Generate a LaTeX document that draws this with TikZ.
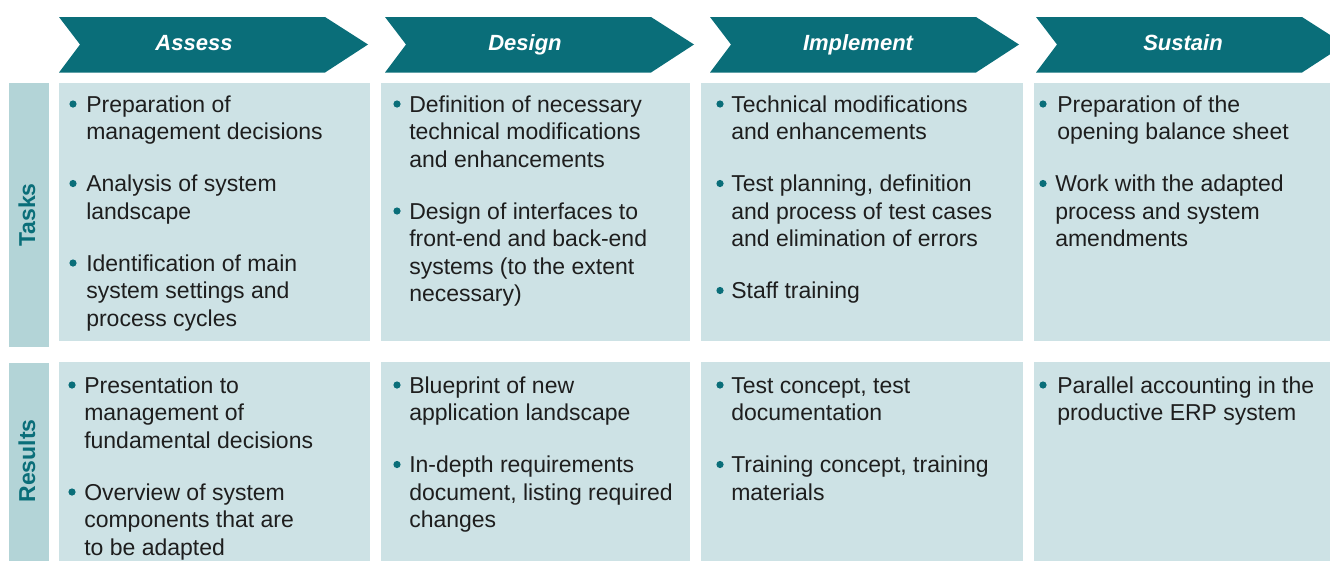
\documentclass[tikz,border=0pt]{standalone}
\usepackage{fontspec}
\setmainfont{Liberation Sans}
\definecolor{tealc}{HTML}{0A6E79}
\definecolor{lightc}{HTML}{CDE2E5}
\definecolor{sidec}{HTML}{B3D4D7}
\definecolor{bodyc}{HTML}{1E1E1E}
\newcommand\lsp{27.5}
\newcommand\bitem[5]{%
  \fill[tealc] (#2,#4-8) circle[radius=2.7pt];
  \foreach \ln [count=\i from 0] in {#5}{\node[txt] (#1-\i) at (#3,#4+\i*\lsp) {\ln};}%
}
\newcommand\chevron[1]{%
  \fill[tealc] (#1,17) -- (#1+266,17) -- (#1+309,44.5) -- (#1+266,72.5) -- (#1,72.5) -- (#1+21,44.5) -- cycle;
}
\begin{document}
\begin{tikzpicture}[x=0.75pt,y=-0.75pt,
  txt/.style={font=\fontsize{17.25}{20.6}\selectfont, text=bodyc, inner sep=0pt, anchor=base west},
  hdr/.style={font=\fontsize{16.5}{19}\selectfont\bfseries\itshape, text=white, inner sep=0pt, anchor=base},
  sidelbl/.style={font=\fontsize{17.25}{19}\selectfont\bfseries, text=tealc, inner sep=0pt, anchor=base, rotate=90}]
\useasboundingbox (0,0) rectangle (1330,561);
\clip (0,0) rectangle (1330,561);
% header chevrons
\chevron{59}
\chevron{385}
\chevron{710}
\chevron{1036}
\node[hdr] (h1) at (194,50) {Assess};
\node[hdr] (h2) at (525,50) {Design};
\node[hdr] (h3) at (858,50) {Implement};
\node[hdr] (h4) at (1183,50) {Sustain};
% side bars
\fill[sidec] (9,83) rectangle (49,347);
\fill[sidec] (9,363) rectangle (49,561);
\node[sidelbl] (lt) at (35,215) {Tasks};
\node[sidelbl] (lr) at (35,461) {Results};
% content boxes
\fill[lightc] (59,83) rectangle (370,341);
\fill[lightc] (381,83) rectangle (690,341);
\fill[lightc] (701,83) rectangle (1023,341);
\fill[lightc] (1034,83) rectangle (1330,341);
\fill[lightc] (59,362) rectangle (370,561);
\fill[lightc] (381,362) rectangle (690,561);
\fill[lightc] (701,362) rectangle (1023,561);
\fill[lightc] (1034,362) rectangle (1330,561);
% Tasks
\bitem{ta1}{73}{86}{112}{Preparation of,management decisions}
\bitem{ta2}{73}{86}{191.5}{Analysis of system,landscape}
\bitem{ta3}{73}{86}{271}{Identification of main,system settings and,process cycles}
\bitem{td1}{397}{409}{112}{Definition of necessary,technical modifications,and enhancements}
\bitem{td2}{397}{409}{219}{Design of interfaces to,front-end and back-end,systems (to the extent,necessary)}
\bitem{ti1}{720}{731}{112}{Technical modifications,and enhancements}
\bitem{ti2}{720}{731}{191.5}{{Test planning, definition},and process of test cases,and elimination of errors}
\bitem{ti3}{720}{731}{298.5}{Staff training}
\bitem{ts1}{1043}{1057}{112}{Preparation of the,opening balance sheet}
\bitem{ts2}{1043}{1055}{191.5}{Work with the adapted,process and system,amendments}
% Results
\bitem{ra1}{72}{84}{393}{Presentation to,management of,fundamental decisions}
\bitem{ra2}{72}{84}{500}{Overview of system,components that are,to be adapted}
\bitem{rd1}{397}{409}{393}{Blueprint of new,application landscape}
\bitem{rd2}{397}{409}{472.5}{In-depth requirements,{document, listing required},changes}
\bitem{ri1}{720}{731}{393}{{Test concept, test},documentation}
\bitem{ri2}{720}{731}{472.5}{{Training concept, training},materials}
\bitem{rs1}{1043}{1057}{393}{Parallel accounting in the,productive ERP system}
\end{tikzpicture}
\end{document}
